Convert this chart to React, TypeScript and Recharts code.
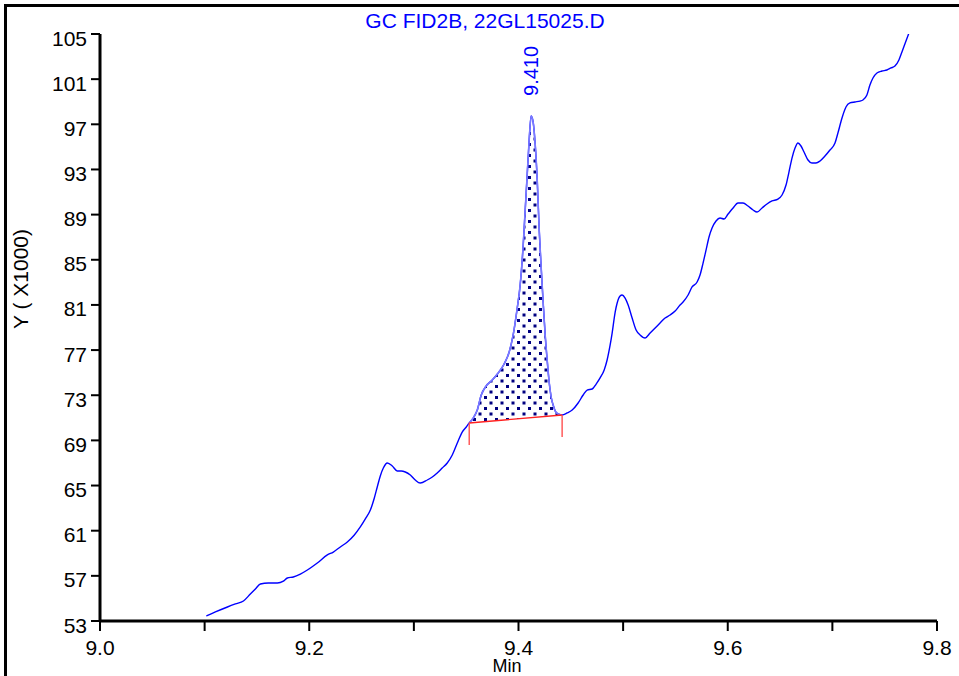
import React from "react";
import {
  ComposedChart,
  Line,
  Area,
  XAxis,
  YAxis,
  ReferenceLine,
  ReferenceDot,
} from "recharts";

// Retention time (min)
const times = [
  9.1017, 9.1103, 9.1218, 9.1294, 9.1371, 9.1437, 9.1485, 9.1533, 9.1609, 9.1695,
  9.1753, 9.1791, 9.1848, 9.1915, 9.1982, 9.2077, 9.2173, 9.223, 9.2297, 9.2364,
  9.2431, 9.2488, 9.2536, 9.2584, 9.2622, 9.265, 9.2679, 9.2708, 9.2746, 9.2794,
  9.2841, 9.288, 9.2918, 9.2966, 9.3013, 9.3061, 9.3128, 9.3176, 9.3223, 9.3271,
  9.3319, 9.3367, 9.3415, 9.3462, 9.3501, 9.3529, 9.3567, 9.3606, 9.3644, 9.3691,
  9.3749, 9.3806, 9.3863, 9.3911, 9.3949, 9.3988, 9.4016, 9.4045, 9.4064, 9.4083,
  9.4102, 9.4121, 9.414, 9.416, 9.4179, 9.4198, 9.4217, 9.4236, 9.4255, 9.4274,
  9.4293, 9.4312, 9.4331, 9.4351, 9.4379, 9.4417, 9.4465, 9.4513, 9.457, 9.4618,
  9.4656, 9.4704, 9.4742, 9.478, 9.4819, 9.4847, 9.4876, 9.4895, 9.4924, 9.4943,
  9.4971, 9.499, 9.5019, 9.5048, 9.5086, 9.5124, 9.5162, 9.521, 9.5258, 9.5306,
  9.5353, 9.5401, 9.5449, 9.5497, 9.5544, 9.5573, 9.5621, 9.5659, 9.5707, 9.5735,
  9.5764, 9.5793, 9.5821, 9.585, 9.5888, 9.5926, 9.5965, 9.6003, 9.6051, 9.6098,
  9.6146, 9.6194, 9.6242, 9.628, 9.6328, 9.6375, 9.6423, 9.648, 9.6519, 9.6557,
  9.6585, 9.6614, 9.6643, 9.6671, 9.67, 9.6729, 9.6767, 9.6805, 9.6843, 9.6882,
  9.6929, 9.6977, 9.7025, 9.7053, 9.7092, 9.713, 9.7168, 9.7216, 9.7264, 9.7292,
  9.733, 9.7359, 9.7388, 9.7426, 9.7474, 9.7521, 9.756, 9.7598, 9.7636, 9.7665,
  9.7693, 9.7732,
];

// Detector signal (Y x1000)
const signal = [
  53.44, 53.8, 54.24, 54.51, 54.77, 55.39, 55.83, 56.28, 56.37, 56.37,
  56.54, 56.81, 56.9, 57.16, 57.52, 58.14, 58.85, 59.11, 59.56, 60.0,
  60.62, 61.33, 62.04, 62.83, 63.9, 64.87, 65.85, 66.55, 67.0, 66.73,
  66.29, 66.29, 66.2, 65.93, 65.49, 65.22, 65.49, 65.76, 66.11, 66.55,
  67.0, 67.71, 68.77, 69.74, 70.19, 70.54, 70.98, 71.69, 73.02, 73.82,
  74.35, 74.97, 75.77, 76.83, 78.34, 80.73, 82.77, 86.31, 89.41, 92.51,
  95.61, 97.74, 97.2, 95.17, 92.07, 87.64, 84.27, 81.17, 78.34, 76.12,
  74.17, 72.84, 72.13, 71.6, 71.34, 71.25, 71.43, 71.69, 72.31, 73.02,
  73.46, 73.55, 73.99, 74.53, 75.24, 76.12, 77.45, 78.51, 80.37, 81.17,
  81.79, 81.88, 81.61, 80.99, 79.84, 78.78, 78.34, 78.07, 78.51, 78.96,
  79.4, 79.84, 80.11, 80.46, 80.99, 81.26, 81.88, 82.59, 83.03, 83.65,
  84.71, 85.87, 87.02, 87.81, 88.43, 88.7, 88.61, 89.05, 89.59, 90.03,
  90.03, 89.76, 89.41, 89.23, 89.59, 89.94, 90.21, 90.38, 90.74, 91.62,
  92.77, 94.01, 94.9, 95.34, 95.08, 94.55, 93.84, 93.57, 93.57, 93.75,
  94.19, 94.72, 95.34, 96.23, 97.56, 98.53, 98.89, 98.98, 99.06, 99.15,
  99.6, 100.48, 101.1, 101.55, 101.72, 101.81, 101.99, 102.16, 102.7, 103.41,
  104.11, 105.09,
];

// Integration baseline (start, end)
const baselineTimes = [9.3529, 9.4417];
const baselineValues = [70.54, 71.25];
const dropBottoms = [68.59, 69.3];

const peakLabel = "9.410";
const peakTime = 9.4121;
const peakValue = 97.74;

const yTicks = [53, 57, 61, 65, 69, 73, 77, 81, 85, 89, 93, 97, 101, 105];
const xTicks = [9.0, 9.1, 9.2, 9.3, 9.4, 9.5, 9.6, 9.7, 9.8];
const xLabeled = ["9.0", "9.2", "9.4", "9.6", "9.8"];

const title = "GC FID2B, 22GL15025.D";
const yTitle = "Y ( X1000)";
const xTitle = "Min";

const FONT = "'Liberation Sans', Arial, sans-serif";

const curveData = times.map((t, i) => ({ t, v: signal[i] }));

const baseAt = (t: number) =>
  baselineValues[0] +
  ((t - baselineTimes[0]) * (baselineValues[1] - baselineValues[0])) /
    (baselineTimes[1] - baselineTimes[0]);

const peakData = times
  .map((t, i) => ({ t, band: [baseAt(t), signal[i]] }))
  .filter((d) => d.t >= baselineTimes[0] - 1e-6 && d.t <= baselineTimes[1] + 1e-6);

const peakCurve = peakData.map((d) => ({ t: d.t, p: d.band[1] }));

const baselineData = baselineTimes.map((t, i) => ({ t, b: baselineValues[i] }));

const YTick = (props: any) => {
  const { x, y, payload } = props;
  return (
    <text
      x={x - 1}
      y={y + 4}
      textAnchor="end"
      dominantBaseline="central"
      fontFamily={FONT}
      fontSize={21}
      fill="#000"
    >
      {payload.value}
    </text>
  );
};

const XTick = (props: any) => {
  const { x, y, payload } = props;
  const s = Number(payload.value).toFixed(1);
  if (!xLabeled.includes(s)) return <g />;
  return (
    <text
      x={x}
      y={y + 24}
      textAnchor="middle"
      fontFamily={FONT}
      fontSize={21}
      fill="#000"
    >
      {s}
    </text>
  );
};

const PeakLabel = (props: any) => {
  const vb = props.viewBox || {};
  const cx = (vb.x ?? 0) + (vb.width ?? 0) / 2;
  const cy = (vb.y ?? 0) + (vb.height ?? 0) / 2;
  const lx = cx + 7;
  const ly = cy - 20;
  return (
    <text
      x={lx}
      y={ly}
      transform={`rotate(-90 ${lx} ${ly})`}
      textAnchor="start"
      fontFamily={FONT}
      fontSize={20}
      fill="#0000ff"
    >
      {peakLabel}
    </text>
  );
};

export default function App() {
  return (
    <div
      style={{
        position: "absolute",
        left: 0,
        top: 0,
        width: 959,
        height: 676,
        overflow: "hidden",
        background: "#fff",
      }}
    >
      <div
        style={{
          position: "absolute",
          left: 4,
          top: 4,
          width: 1200,
          height: 1200,
          borderLeft: "3px solid #000",
          borderTop: "3px solid #000",
        }}
      />
      <div style={{ position: "absolute", left: 0, top: 0 }}>
        <ComposedChart
          width={959}
          height={676}
          margin={{ top: 34, right: 22, bottom: 0, left: 40 }}
        >
          <defs>
            <pattern id="dots" patternUnits="userSpaceOnUse" width="11" height="11">
              <rect x="0" y="0" width="3" height="3" fill="#000080" />
              <rect x="5.5" y="5.5" width="3" height="3" fill="#000080" />
            </pattern>
          </defs>
          <XAxis
            type="number"
            dataKey="t"
            domain={[9.0, 9.8]}
            ticks={xTicks}
            interval={0}
            allowDataOverflow
            height={55}
            tickSize={10}
            tickMargin={0}
            axisLine={{ stroke: "#000", strokeWidth: 3 }}
            tickLine={{ stroke: "#000", strokeWidth: 2 }}
            tick={<XTick />}
          />
          <YAxis
            type="number"
            domain={[53, 105]}
            ticks={yTicks}
            interval={0}
            allowDataOverflow
            width={60}
            tickSize={9}
            tickMargin={3}
            axisLine={{ stroke: "#000", strokeWidth: 3 }}
            tickLine={{ stroke: "#000", strokeWidth: 2 }}
            tick={<YTick />}
          />
          <Area
            data={peakData}
            dataKey="band"
            type="monotone"
            stroke="none"
            fill="url(#dots)"
            fillOpacity={1}
            isAnimationActive={false}
            dot={false}
            activeDot={false}
          />
          <Line
            data={curveData}
            dataKey="v"
            type="monotone"
            stroke="#0000ff"
            strokeWidth={1.4}
            dot={false}
            activeDot={false}
            isAnimationActive={false}
          />
          <Line
            data={peakCurve}
            dataKey="p"
            type="monotone"
            stroke="#7a7aff"
            strokeWidth={1.6}
            dot={false}
            activeDot={false}
            isAnimationActive={false}
          />
          <Line
            data={baselineData}
            dataKey="b"
            type="linear"
            stroke="#ff2020"
            strokeWidth={1.4}
            dot={false}
            activeDot={false}
            isAnimationActive={false}
          />
          <ReferenceLine
            segment={[
              { x: baselineTimes[0], y: baselineValues[0] },
              { x: baselineTimes[0], y: dropBottoms[0] },
            ]}
            stroke="#ff5050"
            strokeWidth={1.4}
          />
          <ReferenceLine
            segment={[
              { x: baselineTimes[1], y: baselineValues[1] },
              { x: baselineTimes[1], y: dropBottoms[1] },
            ]}
            stroke="#ff5050"
            strokeWidth={1.4}
          />
          <ReferenceDot
            x={peakTime}
            y={peakValue}
            r={0}
            fill="none"
            stroke="none"
            label={<PeakLabel />}
          />
        </ComposedChart>
      </div>
      <svg
        width={959}
        height={676}
        style={{ position: "absolute", left: 0, top: 0, pointerEvents: "none" }}
      >
        <text
          x={485}
          y={28}
          textAnchor="middle"
          fontFamily={FONT}
          fontSize={21}
          fill="#0000ff"
        >
          {title}
        </text>
        <text
          x={28}
          y={279}
          transform="rotate(-90 28 279)"
          textAnchor="middle"
          fontFamily={FONT}
          fontSize={21}
          fill="#000"
        >
          {yTitle}
        </text>
        <text
          x={507}
          y={672}
          textAnchor="middle"
          fontFamily={FONT}
          fontSize={18}
          fill="#000"
        >
          {xTitle}
        </text>
      </svg>
    </div>
  );
}
